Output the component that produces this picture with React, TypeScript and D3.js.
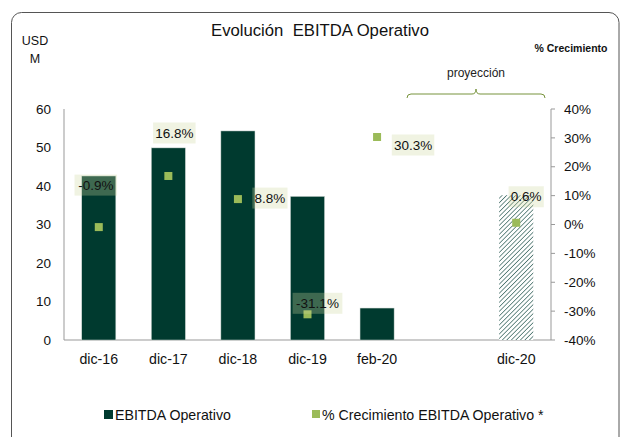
import React from "react";
import * as d3 from "d3";

const categories = ["dic-16", "dic-17", "dic-18", "dic-19", "feb-20", "", "dic-20"];
const ebitda: (number | null)[] = [42.6, 49.9, 54.3, 37.3, 8.3, null, 37.6];
const growth: (number | null)[] = [-0.9, 16.8, 8.8, -31.1, 30.3, null, 0.6];
const growthLabels = ["-0.9%", "16.8%", "8.8%", "-31.1%", "30.3%", "", "0.6%"];
const projected = [false, false, false, false, false, false, true];
const leftTicks = [0, 10, 20, 30, 40, 50, 60];
const rightTicks = [-40, -30, -20, -10, 0, 10, 20, 30, 40];
// label offsets relative to the point (px)
const labelDx = [-3, 6, 32, 10, 36, 0, 10];
const labelDy = [-42, -43, -1, -11, 8, 0, -26];

const W = 622, H = 437;
const left = 64, right = 551, top = 109, bottom = 340;
const FONT = "'Liberation Sans', Arial, sans-serif";
const BAR = "#003a2f";
const PT = "#9bbb59";

export default function App() {
  const x = d3.scaleBand<string>().domain(categories.map((c, i) => c + "_" + i)).range([left, right]).paddingInner(0.51).paddingOuter(0.255);
  const yL = d3.scaleLinear().domain([0, 60]).range([bottom, top]);
  const yR = d3.scaleLinear().domain([-40, 40]).range([bottom, top]);
  const key = (i: number) => categories[i] + "_" + i;
  const bw = x.bandwidth();

  return (
    <svg width={W} height={H} style={{ position: "absolute", left: 0, top: 0, fontFamily: FONT }}>
      <defs>
        <pattern id="hatch" patternUnits="userSpaceOnUse" width="3.2" height="3.2" patternTransform="rotate(45)">
          <rect width="3.2" height="3.2" fill="#ffffff" />
          <line x1="0" y1="0" x2="0" y2="3.2" stroke={BAR} strokeWidth="1.3" opacity="0.85" />
        </pattern>
      </defs>
      <rect x={0} y={0} width={W} height={H} fill="#fff" />
      <rect x={11.5} y={12.5} width={W - 3 - 11.5} height={H + 10} rx={10} ry={10} fill="none" stroke="#555" strokeWidth={1} />

      <text x={320} y={36} textAnchor="middle" fontSize={16.7} fill="#111" style={{ whiteSpace: "pre" }}>Evolución  EBITDA Operativo</text>
      <text x={35} y={45} textAnchor="middle" fontSize={12.5} fill="#111">USD</text>
      <text x={35} y={63} textAnchor="middle" fontSize={12.5} fill="#111">M</text>
      <text x={571} y={52} textAnchor="middle" fontSize={10.5} fontWeight="bold" fill="#111">% Crecimiento</text>

      <text x={476} y={77} textAnchor="middle" fontSize={12} fill="#222">proyección</text>
      <path d="M407,98 Q407,94 411,94 L472,94 Q476,94 476,89 Q476,94 480,94 L541,94 Q545,94 545,98" fill="none" stroke="#77933c" strokeWidth={1} />

      {/* axes */}
      <line x1={left} x2={left} y1={top} y2={bottom} stroke="#999" />
      <line x1={right} x2={right} y1={top} y2={bottom} stroke="#999" />
      <line x1={left} x2={right} y1={bottom} y2={bottom} stroke="#999" />
      {leftTicks.map(t => (
        <text key={t} x={51} y={yL(t)} dy="0.35em" textAnchor="end" fontSize={13.5} fill="#111">{t}</text>
      ))}
      {rightTicks.map(t => (
        <g key={t}>
          <line x1={right} x2={right + 4} y1={yR(t)} y2={yR(t)} stroke="#999" />
          <text x={564} y={yR(t)} dy="0.35em" textAnchor="start" fontSize={13.5} fill="#111">{t + "%"}</text>
        </g>
      ))}
      {categories.map((c, i) => (
        <text key={i} x={(x(key(i)) as number) + bw / 2} y={359} dy="0.35em" textAnchor="middle" fontSize={14.2} fill="#111">{c}</text>
      ))}

      {/* bars */}
      {ebitda.map((v, i) => v == null ? null : (
        <rect key={i} x={x(key(i))} y={yL(v)} width={bw} height={bottom - yL(v)}
          fill={projected[i] ? "url(#hatch)" : BAR} stroke={projected[i] ? "none" : "#cfd8d4"} strokeWidth={0.5} />
      ))}

      {/* points */}
      {growth.map((g, i) => g == null ? null : (
        <rect key={i} x={(x(key(i)) as number) + bw / 2 - 4} y={yR(g) - 4} width={8} height={8} fill={PT} />
      ))}

      {/* labels */}
      {growth.map((g, i) => {
        if (g == null) return null;
        const cx = (x(key(i)) as number) + bw / 2 + labelDx[i];
        const cy = yR(g) + labelDy[i];
        const w = growthLabels[i].length * 7.3 + 6;
        return (
          <g key={i}>
            <rect x={cx - w / 2} y={cy - 10.5} width={w} height={21} fill="rgb(205,215,160)" opacity={0.3} />
            <text x={cx} y={cy} dy="0.35em" textAnchor="middle" fontSize={13.5} fill="#111">{growthLabels[i]}</text>
          </g>
        );
      })}

      {/* legend */}
      <rect x={104} y={410} width={9} height={9} fill={BAR} />
      <text x={115} y={415} dy="0.35em" fontSize={14.2} fill="#111">EBITDA Operativo</text>
      <rect x={312} y={410} width={8} height={8} fill={PT} />
      <text x={322} y={415} dy="0.35em" fontSize={14.2} fill="#111">% Crecimiento EBITDA Operativo *</text>
    </svg>
  );
}
